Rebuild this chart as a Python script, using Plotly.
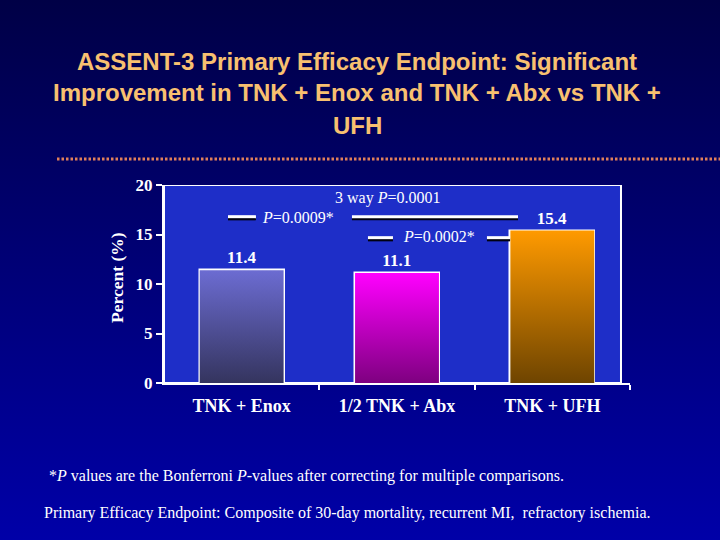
import base64
import plotly.graph_objects as go

# ---- data ----
categories = ["TNK + Enox", "1/2 TNK + Abx", "TNK + UFH"]
values = [11.4, 11.1, 15.4]
bar_top_colors = ["#6c6cd2", "#ff00ff", "#ff9a00"]
bar_bottom_colors = ["#34345e", "#7e0080", "#6e4400"]
y_ticks = [0, 5, 10, 15, 20]
title_lines = ["ASSENT-3 Primary Efficacy Endpoint: Significant",
               "Improvement in TNK + Enox and TNK + Abx vs TNK +",
               "UFH"]
p_three_way = "3 way <i>P</i>=0.0001"
p_enox = "<i>P</i>=0.0009*"
p_abx = "<i>P</i>=0.0002*"
footnote1 = "*<i>P</i> values are the Bonferroni <i>P</i>-values after correcting for multiple comparisons."
footnote2 = "Primary Efficacy Endpoint: Composite of 30-day mortality, recurrent MI,  refractory ischemia."

# ---- layout geometry ----
W, H = 720, 540
L, R, T, B = 164, 90, 185, 157
PW, PH = W - L - R, H - T - B


def px(xp):
    return (xp - L) / PW


def py(yp):
    return (H - B - yp) / PH


SERIF = "Liberation Serif"
SANS = "Liberation Sans"
bar_w = 0.54

fig = go.Figure()

# gradient fills for bars
for i, (v, top, bot) in enumerate(zip(values, bar_top_colors, bar_bottom_colors)):
    fig.add_trace(go.Scatter(
        x=[i - bar_w / 2, i + bar_w / 2, i + bar_w / 2, i - bar_w / 2, i - bar_w / 2],
        y=[0, 0, v, v, 0],
        mode="lines", fill="toself", line=dict(width=0, color=top),
        fillcolor=top,
        fillgradient=dict(type="vertical", colorscale=[[0, bot], [1, top]]),
        hoverinfo="skip", showlegend=False))

# bars (outline + labels)
fig.add_trace(go.Bar(
    x=list(range(len(categories))), y=values, width=bar_w,
    marker=dict(color="rgba(0,0,0,0)", line=dict(color="white", width=2.5)),
    text=[f"{v:.1f}" for v in values], textposition="outside",
    textfont=dict(family=SERIF, size=17, color="white", weight="bold"),
    cliponaxis=False, showlegend=False, hoverinfo="skip"))

# background gradient (svg)
svg = ('<svg xmlns="http://www.w3.org/2000/svg" width="720" height="540">'
       '<defs><linearGradient id="g" x1="0" y1="0" x2="0" y2="1">'
       '<stop offset="0" stop-color="#000046"/><stop offset="1" stop-color="#0000a8"/>'
       '</linearGradient></defs><rect width="720" height="540" fill="url(#g)"/></svg>')
src = "data:image/svg+xml;base64," + base64.b64encode(svg.encode()).decode()
fig.add_layout_image(dict(source=src, xref="paper", yref="paper",
                          x=px(0), y=py(0), sizex=W / PW, sizey=H / PH,
                          xanchor="left", yanchor="top", sizing="stretch",
                          layer="below"))

shapes = []
# plot area panel
shapes.append(dict(type="rect", xref="x", yref="y", x0=-0.5, x1=2.442, y0=0, y1=20,
                   fillcolor="#1e2ec8", line=dict(color="white", width=2), layer="below"))
# dotted separator
shapes.append(dict(type="line", xref="paper", yref="paper", x0=px(57), x1=px(720),
                   y0=py(159), y1=py(159),
                   line=dict(color="#e2805a", width=3, dash="2.5px,2px")))

# bracket lines (shadow + white)
brackets = [(-0.088, 0.092, 16.8), (0.710, 1.779, 16.8),
            (0.813, 0.974, 14.68), (1.579, 1.728, 14.68)]
for x0, x1, yv in brackets:
    shapes.append(dict(type="line", xref="x", yref="y", x0=x0, x1=x1, y0=yv - 0.22, y1=yv - 0.22,
                       line=dict(color="#000010", width=3)))
    shapes.append(dict(type="line", xref="x", yref="y", x0=x0, x1=x1, y0=yv, y1=yv,
                       line=dict(color="white", width=3)))

annotations = []
for i, line in enumerate(title_lines):
    annotations.append(dict(text=line, xref="paper", yref="paper", x=px(357), y=py(61 + 32 * i),
                            xanchor="center", yanchor="middle", showarrow=False,
                            font=dict(family=SANS, size=24, color="#f8c070", weight="bold")))
annotations.append(dict(text=p_three_way, xref="x", yref="y", x=0.942, y=18.69, showarrow=False,
                        font=dict(family=SERIF, size=16, color="white")))
annotations.append(dict(text=p_enox, xref="x", yref="y", x=0.363, y=16.75, showarrow=False,
                        font=dict(family=SERIF, size=16, color="white")))
annotations.append(dict(text=p_abx, xref="x", yref="y", x=1.270, y=14.78, showarrow=False,
                        font=dict(family=SERIF, size=16, color="white")))
annotations.append(dict(text="Percent (%)", xref="paper", yref="paper", x=px(117), y=py(278),
                        textangle=-90, showarrow=False, xanchor="center", yanchor="middle",
                        font=dict(family=SERIF, size=17.5, color="white", weight="bold")))
annotations.append(dict(text=footnote1, xref="paper", yref="paper", x=px(47), y=py(476),
                        xanchor="left", yanchor="middle", showarrow=False,
                        font=dict(family=SERIF, size=16, color="white")))
annotations.append(dict(text=footnote2, xref="paper", yref="paper", x=px(42), y=py(513),
                        xanchor="left", yanchor="middle", showarrow=False,
                        font=dict(family=SERIF, size=16, color="white")))

fig.update_layout(
    width=W, height=H,
    margin=dict(l=L, r=R, t=T, b=B, pad=0),
    paper_bgcolor="#000070", plot_bgcolor="rgba(0,0,0,0)",
    shapes=shapes, annotations=annotations,
    showlegend=False, bargap=0,
    xaxis=dict(range=[-0.5, 2.5], tickvals=list(range(len(categories))), ticktext=categories,
               ticks="", showgrid=False, zeroline=False, showline=True, linecolor="white",
               linewidth=2, fixedrange=True, ticklabelstandoff=5,
               tickfont=dict(family=SERIF, size=18, color="white", weight="bold"),
               minor=dict(tickvals=[0.5, 1.5, 2.5], ticks="outside", ticklen=5,
                          tickcolor="white", tickwidth=1.5, showgrid=False)),
    yaxis=dict(range=[0, 20], tickvals=y_ticks, ticks="outside", ticklen=6, tickwidth=2,
               tickcolor="white", showgrid=False, zeroline=False, showline=True,
               linecolor="white", linewidth=2, fixedrange=True,
               tickfont=dict(family=SERIF, size=17, color="white", weight="bold")),
)

fig.write_html("out.html")
